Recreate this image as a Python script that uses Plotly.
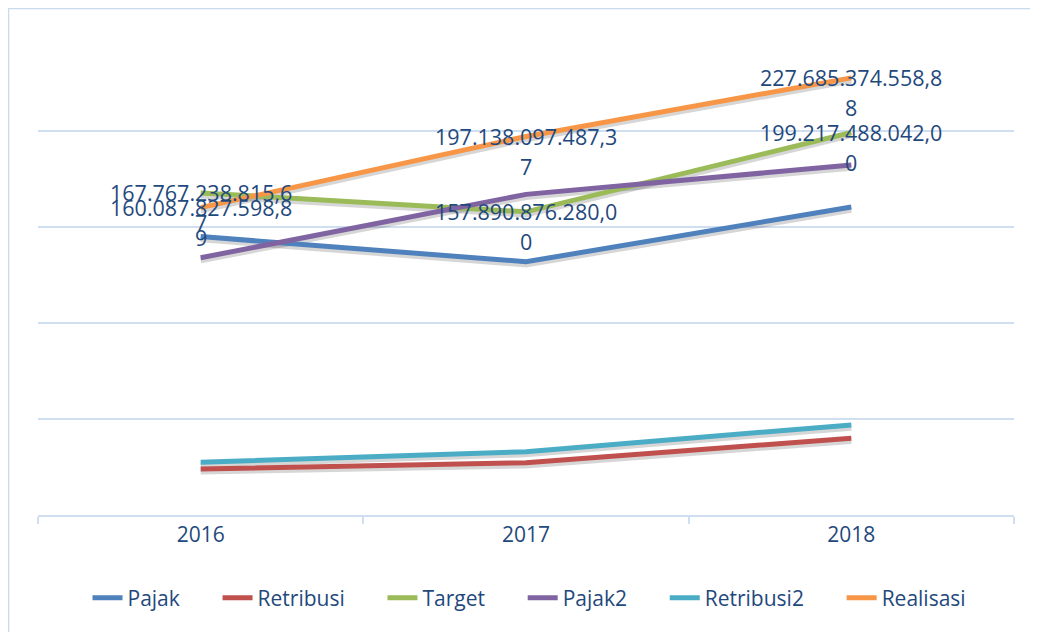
import plotly.graph_objects as go

years = ["2016", "2017", "2018"]
pajak = [145.0, 131.9, 160.4]
retribusi = [24.0, 27.2, 40.0]
target = [167.767238815, 157.890876280, 199.217488042]
pajak2 = [134.0, 167.0, 182.3]
retribusi2 = [27.5, 33.0, 46.9]
realisasi = [160.087827599, 197.138097487, 227.685374559]

target_labels = ["167.767.238.815,67", "157.890.876.280,00", "199.217.488.042,00"]
realisasi_labels = ["160.087.827.598,89", "197.138.097.487,37", "227.685.374.558,88"]

series = [
    ("Pajak", pajak, "#4F81BD"),
    ("Retribusi", retribusi, "#C0504D"),
    ("Target", target, "#9BBB59"),
    ("Pajak2", pajak2, "#8064A2"),
    ("Retribusi2", retribusi2, "#4BACC6"),
    ("Realisasi", realisasi, "#F79646"),
]

fig = go.Figure()
# shadows
for name, vals, col in series:
    fig.add_trace(go.Scatter(x=years, y=[v - 1.4 for v in vals], mode="lines",
                             line=dict(color="rgba(0,0,0,0.16)", width=6),
                             showlegend=False, hoverinfo="skip"))
pad = "&nbsp;" * 6
for name, vals, col in series:
    fig.add_trace(go.Scatter(x=years, y=vals, mode="lines", name=name + pad,
                             line=dict(color=col, width=5)))

lab_font = dict(family="Open Sans", size=21.5, color="#1F497D")
for labels, vals in ((target_labels, target), (realisasi_labels, realisasi)):
    for i, (lab, v) in enumerate(zip(labels, vals)):
        fig.add_annotation(x=i, y=v, text=lab[:-1], showarrow=False,
                           xanchor="center", yanchor="middle", font=lab_font)
        fig.add_annotation(x=i, y=v, text=lab[-1], showarrow=False,
                           xanchor="center", yanchor="middle", yshift=-30, font=lab_font)

fig.add_shape(type="rect", xref="paper", yref="paper",
              x0=-0.0302, x1=1.06, y0=-0.3, y1=1.0552,
              line=dict(color="#C9D9EF", width=1.5), layer="below")

grid = "#D0DEF2"
fig.update_layout(
    width=1038, height=632,
    margin=dict(l=30, r=32, t=27, b=125),
    paper_bgcolor="white", plot_bgcolor="white",
    font=dict(family="Open Sans", color="#1F497D"),
    xaxis=dict(type="category", range=[-0.5, 2.5], tickson="boundaries",
               ticks="outside", ticklen=7, tickcolor=grid, tickwidth=1.5,
               showgrid=False, showline=True, linecolor=grid, linewidth=1.5,
               tickfont=dict(size=21, color="#1F497D")),
    yaxis=dict(range=[0, 250], dtick=50, showgrid=True, gridcolor=grid, gridwidth=1.5,
               showticklabels=False, zeroline=False, ticks=""),
    legend=dict(orientation="h", x=0.52, xanchor="center", y=-0.173, yanchor="middle",
                font=dict(size=21, color="#1F497D"), itemwidth=30),
    showlegend=True,
)

fig.write_html("out.html")
